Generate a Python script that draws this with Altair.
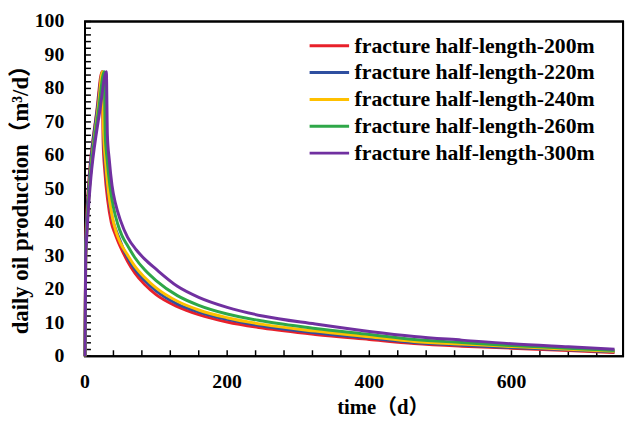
import altair as alt
import pandas as pd

series_names = [
    "fracture half-length-200m",
    "fracture half-length-220m",
    "fracture half-length-240m",
    "fracture half-length-260m",
    "fracture half-length-300m",
]
colors = ["#E8202A", "#2E4FA0", "#FFC000", "#2EA748", "#7030A0"]

t_200 = [0, 1, 17, 24, 25.5, 28, 32, 37, 42, 47, 54, 60, 70, 84, 100, 130, 160, 200, 250, 324, 400, 463, 530, 600, 680, 745]
q_200 = [0, 36, 74, 85, 64, 55, 46.5, 40, 36.7, 34, 30.8, 28.3, 24.9, 21.4, 18.4, 14.8, 12.4, 10.2, 8.4, 6.5, 5.0, 3.8, 3.0, 2.4, 1.7, 1.1]

t_220 = [0, 1, 18, 25, 26.5, 29, 33, 38, 43, 48, 54, 60, 70, 84, 100, 130, 160, 200, 250, 324, 400, 463, 530, 600, 680, 745]
q_220 = [0, 34, 75, 85, 64, 56, 48, 41.5, 38, 35.3, 32, 29.5, 26, 22.6, 19.5, 15.6, 13.2, 11, 9.0, 7.0, 5.4, 4.1, 3.3, 2.6, 1.9, 1.3]

t_240 = [0, 1, 19.5, 24.5, 26, 29, 33, 38, 44, 50, 60, 70, 84, 100, 130, 160, 200, 250, 324, 400, 463, 530, 600, 680, 745]
q_240 = [0, 30, 76, 85, 68, 58, 49, 42, 37, 33.8, 30.2, 26.9, 23.5, 20.4, 16.4, 13.8, 11.5, 9.5, 7.5, 5.8, 4.4, 3.6, 2.9, 2.1, 1.5]

t_260 = [0, 1, 20, 27, 28.5, 31, 35, 40, 46, 52, 60, 70, 84, 100, 130, 160, 200, 250, 324, 400, 463, 530, 600, 680, 745]
q_260 = [0, 31, 75, 85, 66, 59, 51, 44.5, 39.5, 36, 33, 29.5, 25.8, 22.6, 18.1, 15.2, 12.6, 10.5, 8.3, 6.5, 5.0, 4.1, 3.2, 2.4, 1.7]

t_300 = [0, 1, 22, 30, 31.5, 34, 38, 43, 50, 60, 72, 84, 100, 130, 160, 200, 250, 324, 400, 463, 530, 600, 680, 745]
q_300 = [0, 30, 75, 85, 66, 59, 51, 45.5, 40.5, 35.5, 31.8, 29, 26, 20.9, 17.6, 14.6, 12, 9.6, 7.4, 5.9, 4.8, 3.7, 2.8, 2.1]

x_labels = [0, 200, 400, 600]
y_labels = list(range(0, 101, 10))
x_ticks = list(range(0, 760, 40))
y_ticks = list(range(0, 101, 2))
x_title = "time（d）"
y_title = "daily oil production（m³/d）"

times = [t_200, t_220, t_240, t_260, t_300]
rates = [q_200, q_220, q_240, q_260, q_300]
rows = []
for name, ts, qs in zip(series_names, times, rates):
    for t, q in zip(ts, qs):
        rows.append({"series": name, "time": t, "rate": q})
df = pd.DataFrame(rows)
df_xt = pd.DataFrame({"time": x_ticks})
df_yt = pd.DataFrame({"rate": y_ticks})
df_xl = pd.DataFrame({"time": x_labels, "label": [str(v) for v in x_labels]})
df_yl = pd.DataFrame({"rate": y_labels, "label": [str(v) for v in y_labels]})
df_one = pd.DataFrame({"k": [0]})

FONT = "Liberation Serif, Noto Sans CJK SC"
W, H = 545, 339
xscale = alt.Scale(domain=[0, 757], nice=False)
yscale = alt.Scale(domain=[0, 100], nice=False)

frame = alt.Chart(df_one).mark_rect(filled=False, stroke="black", strokeWidth=2).encode(
    x=alt.value(0), x2=alt.value(W), y=alt.value(0), y2=alt.value(H),
)

xticks = alt.Chart(df_xt).mark_tick(color="black", thickness=1.5, size=6, opacity=1).encode(
    x=alt.X("time:Q", scale=xscale, axis=None),
    y=alt.value(H - 3),
)

yticks = alt.Chart(df_yt).mark_tick(color="black", thickness=1.5, size=6, opacity=1).encode(
    y=alt.Y("rate:Q", scale=yscale, axis=None),
    x=alt.value(3),
)

lines = alt.Chart(df).mark_line(strokeWidth=3, interpolate="monotone").encode(
    x=alt.X("time:Q", scale=xscale, axis=None),
    y=alt.Y("rate:Q", scale=yscale, axis=None),
    color=alt.Color("series:N", scale=alt.Scale(domain=series_names, range=colors),
                    legend=alt.Legend(
                        title=None, orient="none", legendX=226, legendY=14,
                        symbolType="stroke", symbolSize=1600, symbolStrokeWidth=3,
                        labelFont=FONT, labelFontSize=22, labelFontWeight="bold",
                        labelColor="black", labelOffset=4, labelLimit=0,
                        clipHeight=21, rowPadding=4.2, padding=0)),
)

xlab = alt.Chart(df_xl).mark_text(font=FONT, fontSize=20, fontWeight="bold", color="black",
                                  align="center", baseline="alphabetic").encode(
    x=alt.X("time:Q", scale=xscale, axis=None),
    y=alt.value(H + 32),
    text="label:N",
)

ylab = alt.Chart(df_yl).mark_text(font=FONT, fontSize=20, fontWeight="bold", color="black",
                                  align="right", baseline="middle").encode(
    y=alt.Y("rate:Q", scale=yscale, axis=None),
    x=alt.value(-21),
    text="label:N",
)

xtitle = alt.Chart(pd.DataFrame({"label": [x_title]})).mark_text(
    font=FONT, fontSize=21, fontWeight="bold", color="black",
    align="center", baseline="alphabetic").encode(
    x=alt.value(302), y=alt.value(H + 59), text="label:N",
)

ytitle = alt.Chart(pd.DataFrame({"label": [y_title]})).mark_text(
    font=FONT, fontSize=23, fontWeight="bold", color="black", angle=270,
    align="center", baseline="alphabetic").encode(
    x=alt.value(-58), y=alt.value(175), text="label:N",
)

chart = alt.layer(frame, xticks, yticks, lines, xlab, ylab, xtitle, ytitle).properties(
    width=W, height=H,
    autosize=alt.AutoSizeParams(type="none"),
    padding={"left": 78, "top": 11, "right": 5, "bottom": 66},
).configure_view(stroke="black", strokeWidth=2)

chart.save("out.html", embed_options={"renderer": "svg", "actions": False})
